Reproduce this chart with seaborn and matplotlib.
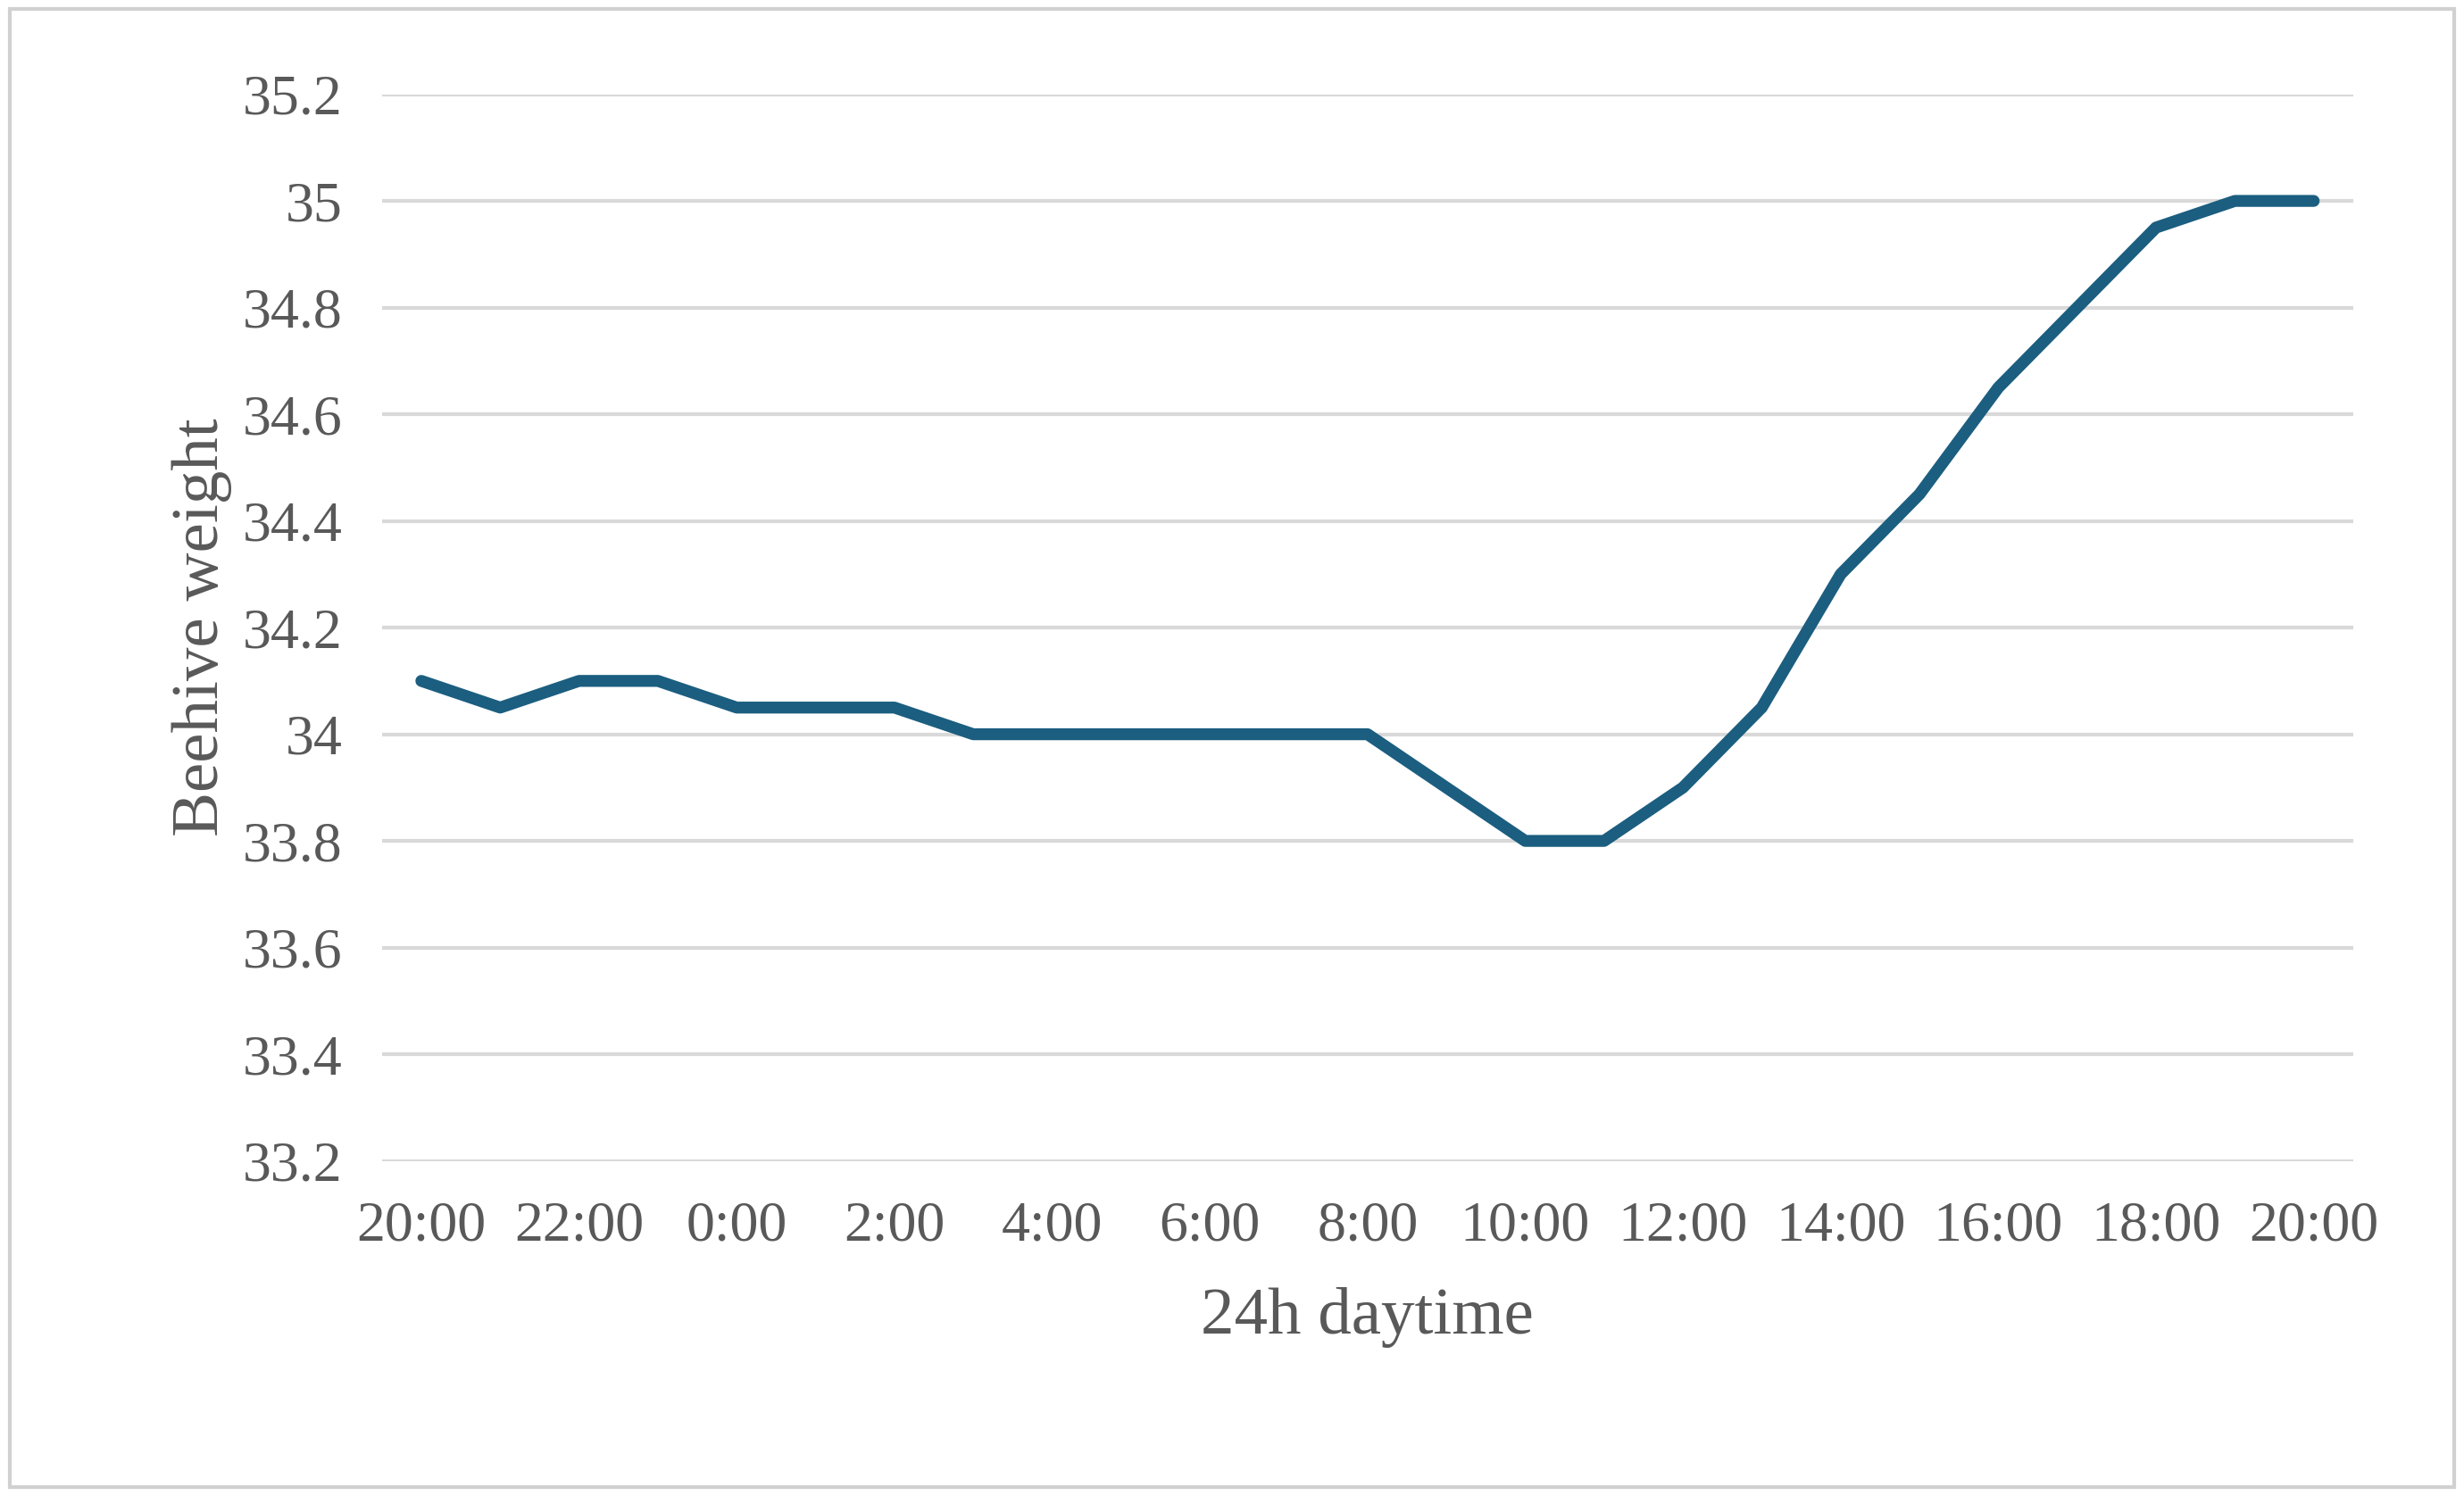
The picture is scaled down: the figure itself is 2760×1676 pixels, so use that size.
import numpy as np
import pandas as pd
import seaborn as sns
import matplotlib.pyplot as plt
from matplotlib.patches import Rectangle

# Données
hours = ["20:00", "21:00", "22:00", "23:00", "0:00", "1:00", "2:00", "3:00", "4:00",
         "5:00", "6:00", "7:00", "8:00", "9:00", "10:00", "11:00", "12:00", "13:00",
         "14:00", "15:00", "16:00", "17:00", "18:00", "19:00", "20:00"]
weight = [34.1, 34.05, 34.1, 34.1, 34.05, 34.05, 34.05, 34.0, 34.0, 34.0, 34.0, 34.0,
          34.0, 33.9, 33.8, 33.8, 33.9, 34.05, 34.3, 34.45, 34.65, 34.8, 34.95, 35.0, 35.0]
y_ticks = [33.2, 33.4, 33.6, 33.8, 34.0, 34.2, 34.4, 34.6, 34.8, 35.0, 35.2]
y_labels = ["33.2", "33.4", "33.6", "33.8", "34", "34.2", "34.4", "34.6", "34.8", "35", "35.2"]

df = pd.DataFrame({"idx": np.arange(len(hours)), "weight": weight})

sns.set_style("white")
plt.rcParams["font.family"] = ["Liberation Serif", "DejaVu Serif"]
grey = "#595959"

fig = plt.figure(figsize=(13.8, 8.38), dpi=200)
ax = fig.add_axes([0.155, 0.224, 0.80, 0.713])
fig.patches.append(Rectangle((0.004, 0.006), 0.992, 0.988, transform=fig.transFigure,
                             fill=False, edgecolor="#d0d0d0", linewidth=1.5))

for t in y_ticks:
    ax.axhline(t, color="#d9d9d9", linewidth=1.5, zorder=0)
sns.lineplot(data=df, x="idx", y="weight", ax=ax, color="#1B5E80", linewidth=4.8,
             solid_capstyle="round", solid_joinstyle="round")

ax.set_xlim(-0.5, len(hours) - 0.5)
ax.set_ylim(33.2, 35.2)
ax.set_xticks(df["idx"][::2])
ax.set_xticklabels(hours[::2])
ax.set_yticks(y_ticks)
ax.set_yticklabels(y_labels)
ax.tick_params(colors=grey, labelsize=23, length=0, pad=16)
for s in ax.spines.values():
    s.set_visible(False)
ax.set_xlabel("24h daytime", fontsize=27, color=grey, labelpad=14)
ax.set_ylabel("Beehive weight", fontsize=27, color=grey, labelpad=4)

fig.savefig("out.png", dpi=200)
